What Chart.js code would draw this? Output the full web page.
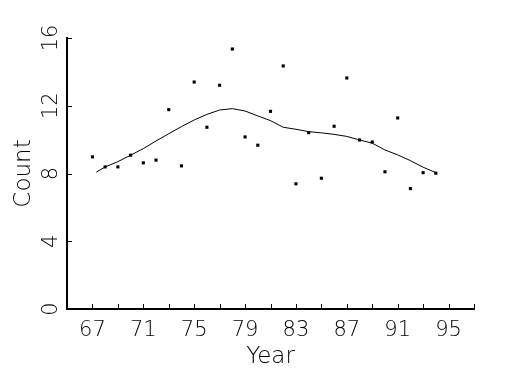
<!DOCTYPE html>
<html>
<head>
<meta charset="utf-8">
<script src="https://cdn.jsdelivr.net/npm/chart.js@4/dist/chart.umd.min.js"></script>
<style>
  html, body { margin: 0; padding: 0; background: #fff; }
  #wrap { width: 525px; height: 375px; }
</style>
</head>
<body>
<div id="wrap"><canvas id="c"></canvas></div>
<script>
// scatter: yearly counts
const years = [67, 68, 69, 70, 71, 72, 73, 74, 75, 76, 77, 78, 79, 80,
               81, 82, 83, 84, 85, 86, 87, 88, 89, 90, 91, 92, 93, 94];
const counts = [8.98, 8.39, 8.39, 9.08, 8.63, 8.79, 11.77, 8.45, 13.40, 10.73, 13.21, 15.35, 10.16, 9.67,
                11.67, 14.35, 7.39, 10.41, 7.72, 10.79, 13.64, 9.98, 9.86, 8.10, 11.28, 7.11, 8.05, 8.02];

// smoothed curve
const smoothYears = [67.3, 68, 69, 70, 71, 72, 73, 74, 75, 76, 77, 78, 79, 80,
                     81, 82, 83, 84, 85, 86, 87, 88, 89, 90, 91, 92, 93, 94];
const smoothCounts = [8.08, 8.39, 8.70, 9.08, 9.47, 9.92, 10.35, 10.77, 11.16, 11.49, 11.75, 11.83, 11.69, 11.40,
                      11.12, 10.73, 10.61, 10.47, 10.40, 10.31, 10.19, 9.98, 9.79, 9.39, 9.10, 8.76, 8.37, 8.05];

const xMin = 65, xMax = 97, xStep = 2;
const xLabelEvery = 4, xLabelStart = 67;
const yMin = 0, yMax = 16, yStep = 4;

const FONT = "'DejaVu Sans', sans-serif";
Chart.defaults.font.family = FONT;
Chart.defaults.font.weight = 200;
Chart.defaults.color = '#000';

// ticks point inwards and y labels are rotated, so draw those by hand
const axisMarks = {
  id: 'axisMarks',
  afterDraw(chart) {
    const { ctx, chartArea, scales: { x, y } } = chart;
    ctx.save();
    ctx.strokeStyle = '#000';
    ctx.lineWidth = 1;
    ctx.beginPath();
    x.ticks.forEach(t => {
      if (t.value <= xMin) return;
      const px = Math.round(x.getPixelForValue(t.value)) + 0.5;
      ctx.moveTo(px, chartArea.bottom);
      ctx.lineTo(px, chartArea.bottom - 5);
    });
    y.ticks.forEach(t => {
      if (t.value <= yMin) return;
      const py = Math.round(y.getPixelForValue(t.value)) + 0.5;
      ctx.moveTo(chartArea.left, py);
      ctx.lineTo(chartArea.left + 5, py);
    });
    ctx.stroke();

    ctx.fillStyle = '#000';
    ctx.font = '200 21px ' + FONT;
    ctx.textAlign = 'center';
    ctx.textBaseline = 'middle';
    y.ticks.forEach(t => {
      ctx.save();
      ctx.translate(52, y.getPixelForValue(t.value));
      ctx.rotate(-Math.PI / 2);
      ctx.fillText(String(t.value), 0, 0);
      ctx.restore();
    });
    ctx.restore();
  }
};

new Chart(document.getElementById('c'), {
  type: 'scatter',
  data: {
    datasets: [
      {
        label: 'Count',
        data: years.map((yr, i) => ({ x: yr, y: counts[i] })),
        pointStyle: 'rect',
        pointRadius: 2.2,
        borderWidth: 0,
        backgroundColor: '#000'
      },
      {
        label: 'Smooth',
        type: 'line',
        data: smoothYears.map((yr, i) => ({ x: yr, y: smoothCounts[i] })),
        borderColor: '#000',
        borderWidth: 1,
        pointRadius: 0,
        tension: 0,
        fill: false
      }
    ]
  },
  options: {
    animation: false,
    responsive: true,
    maintainAspectRatio: false,
    layout: { padding: { top: 38, right: 51, left: 0, bottom: 0 } },
    plugins: { legend: { display: false }, tooltip: { enabled: false } },
    scales: {
      x: {
        type: 'linear',
        min: xMin, max: xMax,
        afterFit: s => { s.height = 66; },
        grid: { display: false },
        border: { display: true, color: '#000', width: 2 },
        ticks: {
          stepSize: xStep,
          autoSkip: false,
          maxRotation: 0,
          padding: 1,
          font: { size: 21, weight: 200 },
          callback: v => ((v - xLabelStart) % xLabelEvery === 0 ? String(v) : '')
        },
        title: { display: true, text: 'Year', font: { size: 23, weight: 200 }, padding: { top: 0, bottom: 4 } }
      },
      y: {
        min: yMin, max: yMax,
        afterFit: s => { s.width = 67; },
        grid: { display: false },
        border: { display: true, color: '#000', width: 2 },
        ticks: { stepSize: yStep, display: false },
        title: { display: true, text: 'Count', font: { size: 23, weight: 200 }, padding: { top: 10, bottom: 0 } }
      }
    }
  },
  plugins: [axisMarks]
});
</script>
</body>
</html>
